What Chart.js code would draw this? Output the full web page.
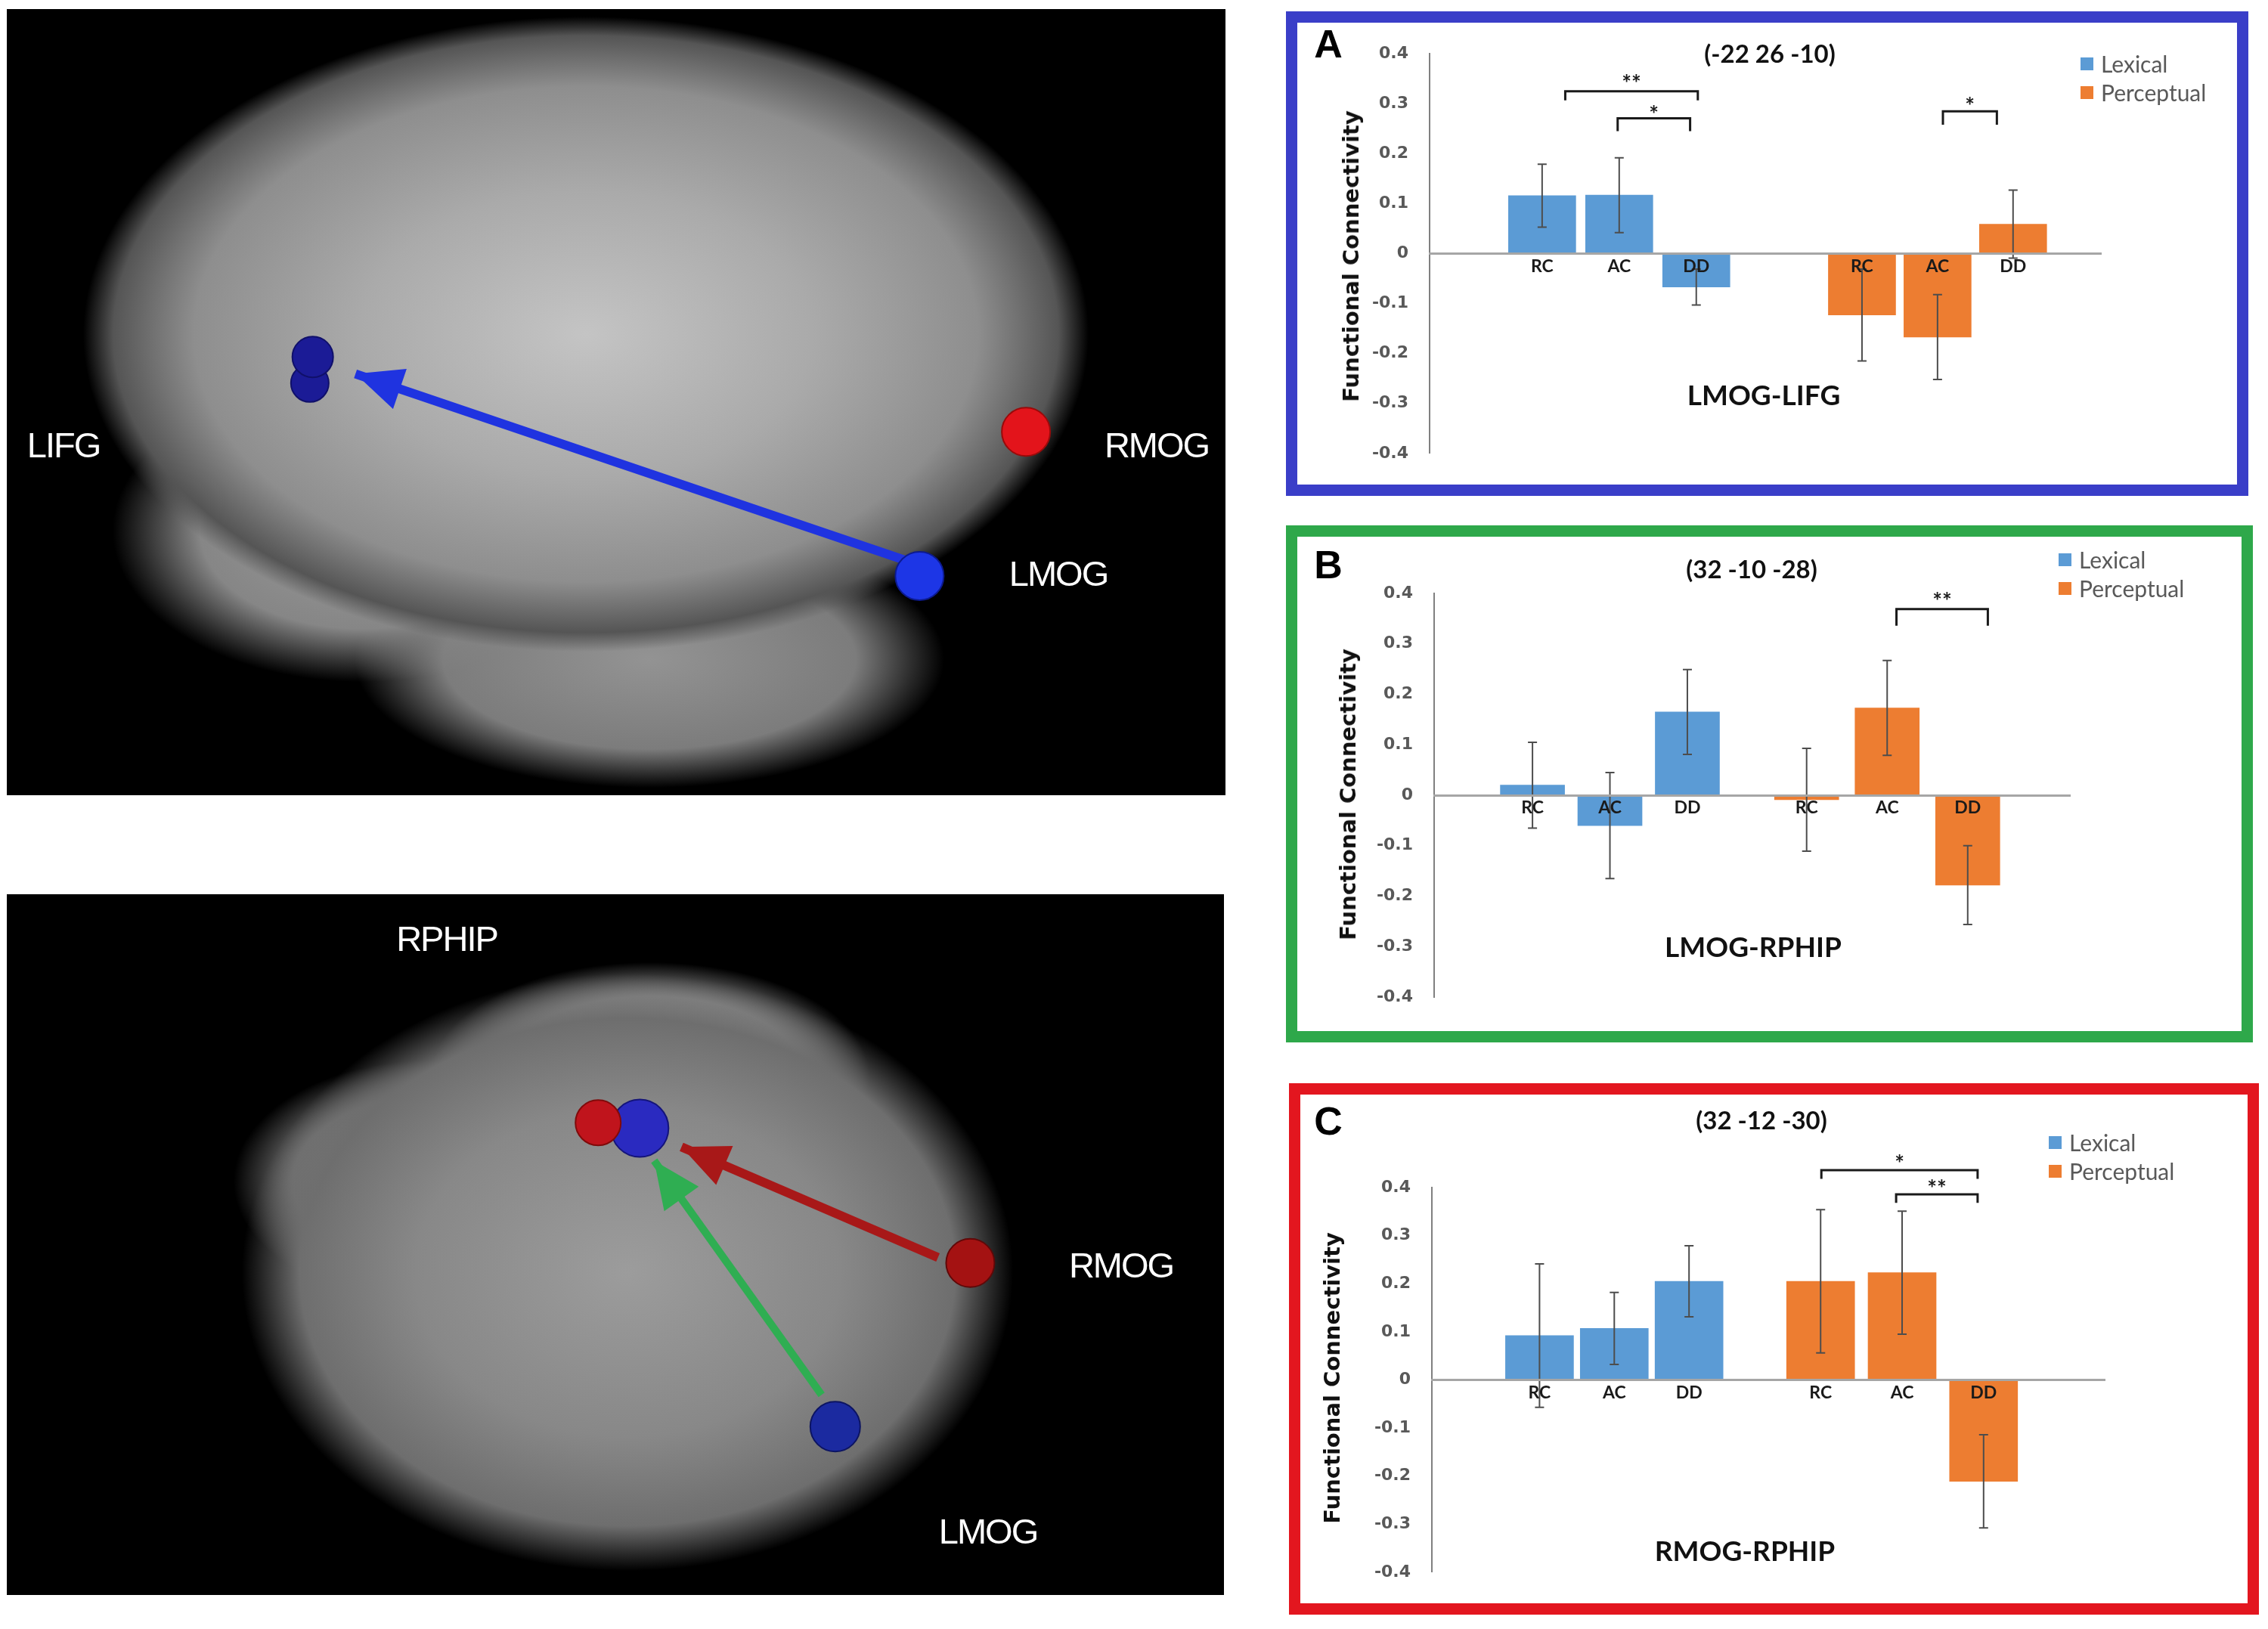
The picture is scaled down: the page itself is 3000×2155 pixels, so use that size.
<!DOCTYPE html>
<html>
<head>
<meta charset="utf-8">
<script src="https://cdn.jsdelivr.net/npm/chart.js@4.4.1/dist/chart.umd.min.js"></script>
<style>
html, body { margin: 0; padding: 0; background: #fff; }
body { width: 3000px; height: 2155px; position: relative; overflow: hidden; font-family: Lato, sans-serif; }
.panel { position: absolute; box-sizing: border-box; border-style: solid; border-width: 15px; background: #fff; }
.brain { position: absolute; }
.lbl { position: absolute; transform: translate(-50%, -50%); white-space: nowrap; line-height: 1; }
.region { color: #fff; font: 47px "Liberation Sans", Arial, sans-serif; letter-spacing: -2px; }
.letter { font: bold 52px "Liberation Sans", Arial, sans-serif; color: #000; }
.title { font: bold 33px Lato, sans-serif; color: #111; }
.sub { font: bold 37px Lato, sans-serif; color: #111; }
.ytitle { font: bold 29px "DejaVu Sans", sans-serif; color: #111; transform: translate(-50%, -50%) rotate(-90deg); }
.leg { position: absolute; font: 30px Lato, sans-serif; color: #595959; line-height: 1; display: flex; align-items: center; transform: translateY(-50%); white-space: nowrap; }
.leg i { display: inline-block; width: 17px; height: 17px; margin-right: 10px; }
</style>
</head>
<body>
<script>
// ---- data ----
const categories = ['RC', 'AC', 'DD'];
const seriesNames = ['Lexical', 'Perceptual'];
const yMin = -0.4, yMax = 0.4, yStep = 0.1;

// A: LMOG-LIFG (-22 26 -10)
const lexicalA = [0.116, 0.117, -0.067];
const lexicalErrA = [0.063, 0.075, 0.036];
const perceptualA = [-0.123, -0.167, 0.059];
const perceptualErrA = [0.092, 0.085, 0.068];
const sigA = [
    { from: 0.30, to: 2.02, y: 0.325, drop: 0.018, mark: '**', markY: 0.348 },
    { from: 0.98, to: 1.92, y: 0.271, drop: 0.026, mark: '*', markY: 0.287 },
    { from: 5.20, to: 5.90, y: 0.285, drop: 0.027, mark: '*', markY: 0.303 }
];

// B: LMOG-RPHIP (32 -10 -28)
const lexicalB = [0.020, -0.060, 0.165];
const lexicalErrB = [0.085, 0.105, 0.084];
const perceptualB = [-0.009, 0.173, -0.178];
const perceptualErrB = [0.102, 0.094, 0.078];
const sigB = [
    { from: 4.70, to: 5.88, y: 0.369, drop: 0.033, mark: '**', markY: 0.392 }
];

// C: RMOG-RPHIP (32 -12 -30)
const lexicalC = [0.092, 0.107, 0.205];
const lexicalErrC = [0.149, 0.075, 0.074];
const perceptualC = [0.205, 0.223, -0.211];
const perceptualErrC = [0.149, 0.128, 0.097];
const sigC = [
    { from: 3.77, to: 5.86, y: 0.436, drop: 0.018, mark: '*', markY: 0.458 },
    { from: 4.77, to: 5.86, y: 0.386, drop: 0.018, mark: '**', markY: 0.406 }
];

// brain overlay: region nodes and connections (page pixel positions)
const sagittalNodes = [
    { x: 1381, y: 574, r: 32, color: '#e3141b', edge: '#9a0a0a' },
    { x: 1234, y: 778, r: 32, color: '#1d36e6', edge: '#0c1a90' },
    { x: 396, y: 468, r: 27, color: '#1b1b96', edge: '#10106a' },
    { x: 392, y: 505, r: 25, color: '#1b1b96', edge: '#10106a' }
];
const sagittalArrows = [
    { from: [1215, 756], to: [455, 492], color: '#1f33e0', width: 12 }
];
const axialNodes = [
    { x: 790, y: 1470, r: 30, color: '#c0141c', edge: '#800a0a' },
    { x: 848, y: 1478, r: 38, color: '#2a2ac0', edge: '#14147a' },
    { x: 845, y: 1482, r: 24, color: '#b040d8', edge: '#b040d8' },
    { x: 1308, y: 1673, r: 32, color: '#a41212', edge: '#600808' },
    { x: 1120, y: 1910, r: 33, color: '#1b2aa0', edge: '#0c1462' }
];
const axialArrows = [
    { from: [1263, 1665], to: [906, 1505], color: '#a81818', width: 12 },
    { from: [1101, 1864], to: [868, 1525], color: '#2fae52', width: 10 }
];

const LEX_COLOR = '#5b9bd5';
const PERC_COLOR = '#ed7d31';

// ---- layout ----
const panels = [
    { letter: 'A', border: '#3a3ec8', box: [1701, 15, 1273, 641], area: [1891, 63, 2779, 609],
      xRange: [-1.46, 7.25], percStart: 4.15, percStep: 0.98, barPx: 89,
      letterAt: [1757, 58], titleAt: [2341, 70], subAt: [2333, 521], yTitleAt: [1787, 339], legendAt: [2752, 84],
      title: '(-22 26 -10)', sub: 'LMOG-LIFG',
      lex: lexicalA, lexErr: lexicalErrA, perc: perceptualA, percErr: perceptualErrA, sig: sigA },
    { letter: 'B', border: '#2ea84a', box: [1701, 695, 1279, 684], area: [1897, 785, 2738, 1319],
      xRange: [-1.27, 6.94], percStart: 3.54, percStep: 1.04, barPx: 85,
      letterAt: [1757, 747], titleAt: [2317, 752], subAt: [2319, 1251], yTitleAt: [1783, 1051], legendAt: [2723, 740],
      title: '(32 -10 -28)', sub: 'LMOG-RPHIP',
      lex: lexicalB, lexErr: lexicalErrB, perc: perceptualB, percErr: perceptualErrB, sig: sigB },
    { letter: 'C', border: '#e3161f', box: [1705, 1433, 1283, 703], area: [1894, 1571, 2784, 2096],
      xRange: [-1.44, 7.56], percStart: 3.76, percStep: 1.09, barPx: 90,
      letterAt: [1757, 1483], titleAt: [2330, 1481], subAt: [2308, 2050], yTitleAt: [1762, 1823], legendAt: [2710, 1511],
      title: '(32 -12 -30)', sub: 'RMOG-RPHIP',
      lex: lexicalC, lexErr: lexicalErrC, perc: perceptualC, percErr: perceptualErrC, sig: sigC }
];

const brainPanels = [
    { box: [9, 12, 1612, 1040], nodes: sagittalNodes, arrows: sagittalArrows,
      bg: 'radial-gradient(665px 420px at 766px 430px, #c4c4c4 0%, #aaaaaa 45%, #8e8e8e 78%, #555 94%, rgba(0,0,0,0) 100%),' +
          'radial-gradient(330px 200px at 470px 690px, #9a9a9a 0%, #868686 65%, rgba(0,0,0,0) 100%),' +
          'radial-gradient(390px 170px at 850px 860px, #939393 0%, #7c7c7c 70%, rgba(0,0,0,0) 100%), #000',
      labels: [['LIFG', 84, 588], ['RMOG', 1530, 588], ['LMOG', 1400, 758]] },
    { box: [9, 1183, 1610, 927], nodes: axialNodes, arrows: axialArrows,
      bg: 'radial-gradient(510px 395px at 821px 500px, #9c9c9c 0%, #888 55%, #6e6e6e 85%, rgba(0,0,0,0) 100%),' +
          'radial-gradient(290px 150px at 851px 240px, #a4a4a4 0%, #8a8a8a 70%, rgba(0,0,0,0) 100%),' +
          'radial-gradient(260px 160px at 560px 380px, #8c8c8c 0%, #707070 70%, rgba(0,0,0,0) 100%), #000',
      labels: [['RPHIP', 591, 1241], ['RMOG', 1483, 1673], ['LMOG', 1307, 2025]] }
];

function addText(cls, text, x, y) {
    const d = document.createElement('div');
    d.className = 'lbl ' + cls;
    d.textContent = text;
    d.style.left = x + 'px';
    d.style.top = y + 'px';
    document.body.appendChild(d);
}

const errorBars = {
    id: 'errorBars',
    afterDatasetsDraw(chart) {
        const { ctx } = chart;
        const y = chart.scales.y;
        ctx.save();
        ctx.strokeStyle = '#4d4d4d';
        ctx.lineWidth = 2;
        chart.data.datasets.forEach((ds, di) => {
            chart.getDatasetMeta(di).data.forEach((bar, i) => {
                const v = ds.data[i].y, e = ds.errors[i];
                const top = y.getPixelForValue(v + e), bot = y.getPixelForValue(v - e);
                ctx.beginPath();
                ctx.moveTo(bar.x, top); ctx.lineTo(bar.x, bot);
                ctx.moveTo(bar.x - 6, top); ctx.lineTo(bar.x + 6, top);
                ctx.moveTo(bar.x - 6, bot); ctx.lineTo(bar.x + 6, bot);
                ctx.stroke();
            });
        });
        ctx.restore();
    }
};

function sigBrackets(items) {
    return {
        id: 'sigBrackets',
        afterDraw(chart) {
            const { ctx } = chart;
            const x = chart.scales.x, y = chart.scales.y;
            ctx.save();
            ctx.strokeStyle = '#1a1a1a';
            ctx.fillStyle = '#1a1a1a';
            ctx.lineWidth = 3;
            ctx.font = 'bold 30px Lato';
            ctx.textAlign = 'center';
            ctx.textBaseline = 'middle';
            items.forEach(b => {
                const x1 = x.getPixelForValue(b.from), x2 = x.getPixelForValue(b.to);
                const yl = y.getPixelForValue(b.y), ye = y.getPixelForValue(b.y - b.drop);
                ctx.beginPath();
                ctx.moveTo(x1, ye); ctx.lineTo(x1, yl); ctx.lineTo(x2, yl); ctx.lineTo(x2, ye);
                ctx.stroke();
                ctx.fillText(b.mark, (x1 + x2) / 2, y.getPixelForValue(b.markY) + 6);
            });
            ctx.restore();
        }
    };
}

function makeBarChart(p) {
    const panel = document.createElement('div');
    panel.className = 'panel';
    panel.style.cssText = `left:${p.box[0]}px;top:${p.box[1]}px;width:${p.box[2]}px;height:${p.box[3]}px;border-color:${p.border};`;
    document.body.appendChild(panel);

    const inL = p.box[0] + 15, inT = p.box[1] + 15, inW = p.box[2] - 30, inH = p.box[3] - 30;
    const wrap = document.createElement('div');
    wrap.style.cssText = `position:absolute;left:${inL}px;top:${inT}px;width:${inW}px;height:${inH}px;`;
    const cv = document.createElement('canvas');
    wrap.appendChild(cv);
    document.body.appendChild(wrap);

    const yAxisW = 80;
    const pad = {
        left: p.area[0] - inL - yAxisW,
        top: p.area[1] - inT,
        right: inL + inW - p.area[2],
        bottom: inT + inH - p.area[3]
    };
    const lexX = categories.map((c, i) => i);
    const percX = categories.map((c, i) => p.percStart + i * p.percStep);
    const tickPos = lexX.concat(percX);
    const tickLabels = categories.concat(categories);

    const chart = new Chart(cv, {
        type: 'bar',
        data: {
            datasets: [{
                label: seriesNames[0],
                data: p.lex.map((v, i) => ({ x: lexX[i], y: v })),
                errors: p.lexErr,
                backgroundColor: LEX_COLOR,
                grouped: false,
                barThickness: p.barPx
            }, {
                label: seriesNames[1],
                data: p.perc.map((v, i) => ({ x: percX[i], y: v })),
                errors: p.percErr,
                backgroundColor: PERC_COLOR,
                grouped: false,
                barThickness: p.barPx
            }]
        },
        options: {
            responsive: true,
            maintainAspectRatio: false,
            animation: false,
            events: [],
            layout: { padding: pad },
            plugins: { legend: { display: false }, tooltip: { enabled: false } },
            scales: {
                x: {
                    type: 'linear',
                    min: p.xRange[0],
                    max: p.xRange[1],
                    offset: false,
                    position: { y: 0 },
                    grid: { display: false, drawTicks: false },
                    border: { display: true, color: '#a6a6a6', width: 3, z: 1 },
                    afterBuildTicks: s => { s.ticks = tickPos.map(v => ({ value: v })); },
                    ticks: {
                        z: 1,
                        autoSkip: false,
                        maxRotation: 0,
                        padding: 3,
                        color: '#1a1a1a',
                        font: { family: 'Lato', weight: 'bold', size: 23 },
                        callback: (v, i) => tickLabels[i]
                    }
                },
                y: {
                    min: yMin,
                    max: yMax,
                    afterFit: s => { s.width = yAxisW; },
                    grid: { display: false, drawTicks: false },
                    border: { display: true, color: '#808080', width: 2 },
                    ticks: {
                        stepSize: yStep,
                        padding: 28,
                        color: '#595959',
                        font: { family: 'DejaVu Sans', weight: 'bold', size: 22 },
                        callback: v => String(+v.toFixed(1))
                    }
                }
            }
        },
        plugins: [errorBars, sigBrackets(p.sig)]
    });

    addText('letter', p.letter, p.letterAt[0], p.letterAt[1]);
    addText('title', p.title, p.titleAt[0], p.titleAt[1]);
    addText('sub', p.sub, p.subAt[0], p.subAt[1]);
    addText('ytitle', 'Functional Connectivity', p.yTitleAt[0], p.yTitleAt[1]);

    chart.data.datasets.forEach((ds, i) => {
        const d = document.createElement('div');
        d.className = 'leg';
        d.style.left = p.legendAt[0] + 'px';
        d.style.top = (p.legendAt[1] + i * 38) + 'px';
        const sw = document.createElement('i');
        sw.style.background = ds.backgroundColor;
        d.appendChild(sw);
        d.appendChild(document.createTextNode(ds.label));
        document.body.appendChild(d);
    });
}

const arrowHeads = {
    id: 'arrowHeads',
    afterDatasetsDraw(chart) {
        const { ctx } = chart;
        const x = chart.scales.x, y = chart.scales.y;
        chart.data.datasets.forEach(ds => {
            if (!ds.arrow) return;
            const [a, b] = ds.data;
            const x1 = x.getPixelForValue(a.x), y1 = y.getPixelForValue(a.y);
            const x2 = x.getPixelForValue(b.x), y2 = y.getPixelForValue(b.y);
            const ang = Math.atan2(y2 - y1, x2 - x1);
            const len = 62, half = 28;
            const bx = x2 - len * Math.cos(ang), by = y2 - len * Math.sin(ang);
            ctx.save();
            ctx.fillStyle = ds.borderColor;
            ctx.beginPath();
            ctx.moveTo(x2, y2);
            ctx.lineTo(bx + half * Math.sin(ang), by - half * Math.cos(ang));
            ctx.lineTo(bx - half * Math.sin(ang), by + half * Math.cos(ang));
            ctx.closePath();
            ctx.fill();
            ctx.restore();
        });
    }
};

function makeBrainChart(p) {
    const [L, T, W, H] = p.box;
    const wrap = document.createElement('div');
    wrap.className = 'brain';
    wrap.style.cssText = `left:${L}px;top:${T}px;width:${W}px;height:${H}px;background:${p.bg};`;
    const cv = document.createElement('canvas');
    wrap.appendChild(cv);
    document.body.appendChild(wrap);

    const datasets = p.nodes.map(n => ({
        type: 'scatter',
        data: [{ x: n.x, y: n.y }],
        pointRadius: n.r,
        backgroundColor: n.color,
        borderColor: n.edge,
        borderWidth: 2
    })).concat(p.arrows.map(a => ({
        type: 'line',
        arrow: true,
        data: [{ x: a.from[0], y: a.from[1] }, { x: a.to[0], y: a.to[1] }],
        borderColor: a.color,
        borderWidth: a.width,
        pointRadius: 0
    })));

    new Chart(cv, {
        type: 'scatter',
        data: { datasets },
        options: {
            responsive: true,
            maintainAspectRatio: false,
            animation: false,
            events: [],
            layout: { padding: 0 },
            plugins: { legend: { display: false }, tooltip: { enabled: false } },
            scales: {
                x: { type: 'linear', min: L, max: L + W, display: false },
                y: { type: 'linear', min: T, max: T + H, reverse: true, display: false }
            }
        },
        plugins: [arrowHeads]
    });

    p.labels.forEach(([t, x, y]) => addText('region', t, x, y));
}

function build() {
    brainPanels.forEach(makeBrainChart);
    panels.forEach(makeBarChart);
}

const fontList = ['bold 23px Lato', '30px Lato', 'bold 22px "DejaVu Sans"', 'bold 29px "DejaVu Sans"', '47px "Liberation Sans"'];
Promise.all(fontList.map(f => document.fonts.load(f))).then(build, build);
</script>
</body>
</html>
